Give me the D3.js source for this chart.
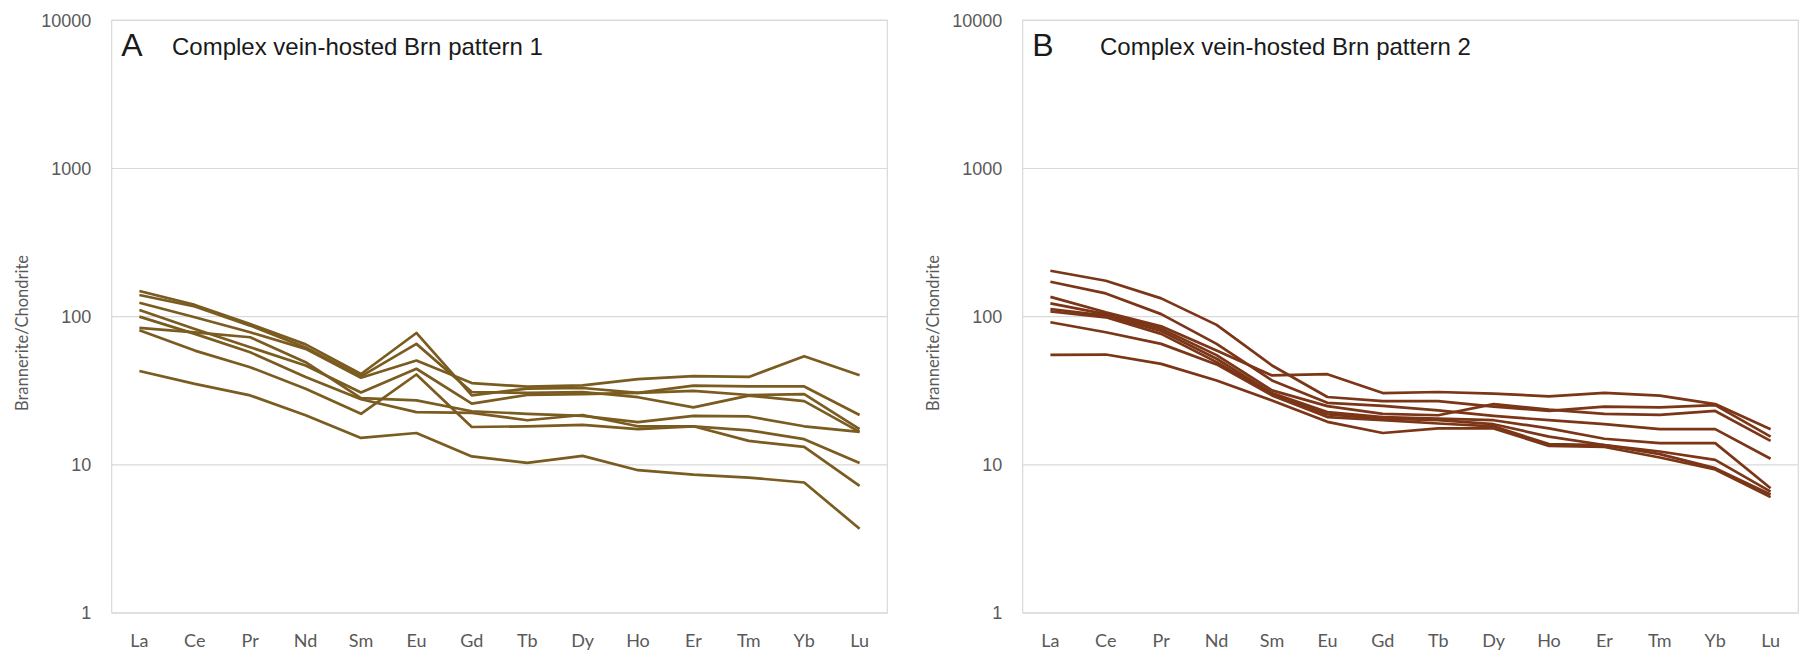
<!DOCTYPE html>
<html>
<head>
<meta charset="utf-8">
<script src="https://cdn.jsdelivr.net/npm/d3@7"></script>
<style>
  body { margin: 0; background: #ffffff; }
  #ree_chart svg { display: block; }
</style>
</head>
<body>
<div id="ree_chart"></div>
<script>
// REE elements on the x axis
const elements = ["La", "Ce", "Pr", "Nd", "Sm", "Eu", "Gd", "Tb", "Dy", "Ho", "Er", "Tm", "Yb", "Lu"];
const yTicks = [1, 10, 100, 1000, 10000];

// panel A - complex vein-hosted Brn pattern 1 (chondrite normalised)
const patternA1 = [149, 120, 89, 65, 41, 77.6, 29.4, 32.7, 33, 30.6, 34.2, 33.8, 33.8, 21.7];
const patternA2 = [140, 117, 87, 62, 39.5, 65.5, 31, 30.6, 31, 28.6, 24.4, 29.3, 26.9, 16.7];
const patternA3 = [124, 99, 78.4, 60.6, 38.7, 50.6, 35.6, 33.7, 34.4, 37.9, 39.7, 39.2, 54, 40.2];
const patternA4 = [111, 82.6, 62.2, 46.8, 30.8, 44.5, 25.9, 29.6, 30, 30.6, 31.6, 29.6, 30, 17.4];
const patternA5 = [100, 76.5, 57.5, 39.1, 27.7, 22.7, 22.4, 20, 21.7, 18.2, 18.2, 17.1, 14.9, 10.3];
const patternA6 = [84, 78.4, 72.6, 49.3, 28.2, 27.2, 23, 22.1, 21.4, 19.4, 21.4, 21.2, 18.2, 16.7];
const patternA7 = [81, 59, 45.6, 32.6, 22.1, 40.7, 18, 18.2, 18.6, 17.4, 18.2, 14.5, 13.2, 7.2];
const patternA8 = [43, 35.2, 29.4, 21.6, 15.2, 16.4, 11.4, 10.3, 11.5, 9.2, 8.6, 8.2, 7.6, 3.7];

// panel B - complex vein-hosted Brn pattern 2
const patternB1 = [204, 174.6, 132.8, 88, 46.8, 28.7, 26.9, 26.9, 24.7, 23.1, 24.7, 24.4, 25.3, 15.5];
const patternB2 = [172, 143.5, 104, 65.5, 37.1, 26.2, 25, 23.3, 21.4, 20, 18.8, 17.4, 17.4, 11.0];
const patternB3 = [136, 107, 86, 59, 40.1, 40.9, 30.5, 31, 30.2, 29, 30.6, 29.3, 25.7, 17.4];
const patternB4 = [123, 104, 83, 55, 31.8, 24.9, 22.1, 21.6, 25.7, 23.6, 22.1, 21.7, 23.1, 14.5];
const patternB5 = [112.6, 101.5, 80, 52, 30.5, 22.7, 21.0, 20.5, 20, 17.6, 15, 14.0, 14, 6.95];
const patternB6 = [108.6, 99, 76.5, 49.3, 29.8, 21.9, 20.5, 20, 18.8, 15.5, 13.6, 12.3, 10.8, 6.6];
const patternB7 = [91.6, 78.5, 65.5, 47.6, 29.4, 21, 20, 19, 18.2, 13.8, 13.6, 11.8, 9.5, 6.3];
const patternB8 = [55.2, 55.5, 48, 37.1, 27.2, 19.5, 16.4, 17.6, 17.6, 13.4, 13.2, 11.2, 9.3, 6.05];

const panels = [
  {
    letter: "A",
    title: "Complex vein-hosted Brn pattern 1",
    color: "#7b5c20",
    left: 111.7,
    titleX: 172,
    series: [patternA1, patternA2, patternA3, patternA4, patternA5, patternA6, patternA7, patternA8],
  },
  {
    letter: "B",
    title: "Complex vein-hosted Brn pattern 2",
    color: "#7b3517",
    left: 1022.7,
    titleX: 1100,
    series: [patternB1, patternB2, patternB3, patternB4, patternB5, patternB6, patternB7, patternB8],
  },
];

const drawChart = () => {
  const width = 1807,
    height = 658;
  const plotW = 775.6,
    plotTop = 20.3,
    plotBottom = 613;

  var svg = d3
    .select("#ree_chart")
    .append("svg")
    .attr("width", width)
    .attr("height", height);

  // shared log y scale
  var y = d3.scaleLog().domain([1, 10000]).range([plotBottom, plotTop]);

  panels.forEach((p) => {
    var g = svg.append("g");

    var x = d3
      .scalePoint()
      .domain(elements)
      .range([p.left, p.left + plotW])
      .padding(0.5);

    // gridlines
    g.selectAll(".grid")
      .data(yTicks)
      .enter()
      .append("line")
      .attr("x1", p.left)
      .attr("x2", p.left + plotW)
      .attr("y1", (d) => y(d))
      .attr("y2", (d) => y(d))
      .attr("stroke", "#d9d9d9")
      .attr("stroke-width", 1.2);

    // plot area border
    g.append("rect")
      .attr("x", p.left)
      .attr("y", plotTop)
      .attr("width", plotW)
      .attr("height", plotBottom - plotTop)
      .attr("fill", "none")
      .attr("stroke", "#d9d9d9")
      .attr("stroke-width", 1.2);

    // y tick labels
    g.selectAll(".ytick")
      .data(yTicks)
      .enter()
      .append("text")
      .attr("x", p.left - 20.5)
      .attr("y", (d) => y(d))
      .attr("dy", "0.36em")
      .attr("text-anchor", "end")
      .style("font-family", "'Liberation Sans', Arial, sans-serif")
      .style("font-size", "18px")
      .style("fill", "#595959")
      .text((d) => d);

    // x category labels
    g.selectAll(".xtick")
      .data(elements)
      .enter()
      .append("text")
      .attr("x", (d) => x(d))
      .attr("y", 647)
      .attr("text-anchor", "middle")
      .style("font-family", "Lato, 'Open Sans', sans-serif")
      .style("font-size", "18px")
      .style("fill", "#595959")
      .text((d) => d);

    // y axis title
    g.append("text")
      .attr("transform", "translate(" + (p.left - 84) + ",333) rotate(-90)")
      .attr("text-anchor", "middle")
      .style("font-family", "Lato, 'Open Sans', sans-serif")
      .style("font-size", "16.5px")
      .style("fill", "#595959")
      .text("Brannerite/Chondrite");

    // REE pattern lines
    var line = d3
      .line()
      .x((d, i) => x(elements[i]))
      .y((d) => y(d));

    g.selectAll(".pattern")
      .data(p.series)
      .enter()
      .append("path")
      .attr("fill", "none")
      .attr("stroke", p.color)
      .attr("stroke-width", 2.7)
      .attr("stroke-linejoin", "round")
      .attr("d", line);

    // panel letter and title
    g.append("text")
      .attr("x", p.left + 9.5)
      .attr("y", 56)
      .style("font-family", "'Liberation Sans', Arial, sans-serif")
      .style("font-size", "32px")
      .style("fill", "#1a1a1a")
      .text(p.letter);

    g.append("text")
      .attr("x", p.titleX)
      .attr("y", 55)
      .style("font-family", "'Liberation Sans', Arial, sans-serif")
      .style("font-size", "24px")
      .style("fill", "#1a1a1a")
      .text(p.title);
  });
};

drawChart();
</script>
</body>
</html>
